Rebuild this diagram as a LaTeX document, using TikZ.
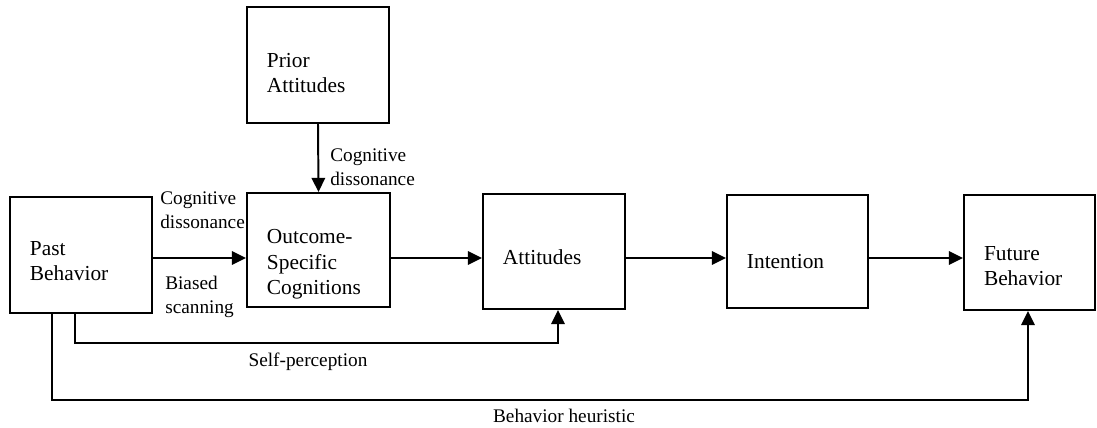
\documentclass[tikz,border=0pt]{standalone}
\usepackage{fontspec}
\setmainfont{Liberation Serif}
\usepackage{tikz}
\usetikzlibrary{arrows.meta,positioning,calc}

\newcommand{\boxfont}{\fontsize{15.2}{18}\selectfont}
\newcommand{\lblfont}{\fontsize{13.7}{17}\selectfont}
% Text im Kasten etwas tiefer setzen
\newcommand{\dn}[1]{\rule{0pt}{#1}}

\tikzset{
  box/.style={draw, line width=1.4pt, align=left, inner xsep=0.5cm, font=\boxfont},
  lbl/.style={align=left, inner sep=0pt, font=\lblfont},
  arr/.style={line width=1.4pt, -{Triangle[length=10pt,width=9.5pt]}}
}

\begin{document}
\begin{tikzpicture}[x=0.025cm,y=-0.025cm]
  \useasboundingbox (0,0) rectangle (1097,427);
  % Kaesten
  \node[box, text width=2.55cm, minimum height=2.9cm] (past) at (81,255) {\dn{18.9pt}Past\\Behavior};
  \node[box, text width=2.55cm, minimum height=2.9cm] (prior) at (318,65) {\dn{21.8pt}Prior\\Attitudes};
  \node[box, text width=2.575cm, minimum height=2.85cm] (outcome) at (318.5,250) {\dn{30.3pt}Outcome-\\Specific\\Cognitions};
  \node[box, text width=2.55cm, minimum height=2.875cm] (attitudes) at (554,251.5) {\dn{18.9pt}Attitudes};
  \node[box, text width=2.525cm, minimum height=2.825cm] (intention) at (797.5,251.5) {\dn{24.6pt}Intention};
  \node[box, text width=2.275cm, minimum height=2.875cm] (future) at (1029.5,252.5) {\dn{28.9pt}Future\\Behavior};
  % Hilfspunkte
  \coordinate (axis) at (0,258);
  \coordinate (sp1) at (75,343);
  \coordinate (sp2) at (558,343);
  \coordinate (bh1) at (52,400);
  \coordinate (bh2) at (1028,400);
  % Pfeile
  \draw[arr] (past.east |- axis) -- (outcome.west |- axis);
  \draw[arr] (outcome.east |- axis) -- (attitudes.west |- axis);
  \draw[arr] (attitudes.east |- axis) -- (intention.west |- axis);
  \draw[arr] (intention.east |- axis) -- (future.west |- axis);
  \draw[arr] (prior.south) -- (outcome.north);
  \draw[arr] (past.south -| sp1) -- (sp1) -- (sp2) -- (attitudes.south -| sp2);
  \draw[arr] (past.south -| bh1) -- (bh1) -- (bh2) -- (future.south -| bh2);
  % Beschriftungen
  \node[lbl, anchor=west] (cdleft) at (160,210) {Cognitive\\dissonance};
  \node[lbl, anchor=west] (biased) at (165,297) {Biased\\scanning};
  \node[lbl, anchor=west] (cdtop) at (330,167) {Cognitive\\dissonance};
  \node[lbl] (selfp) at (308,362) {Self-perception};
  \node[lbl] (heur) at (564,416) {Behavior heuristic};
\end{tikzpicture}
\end{document}
